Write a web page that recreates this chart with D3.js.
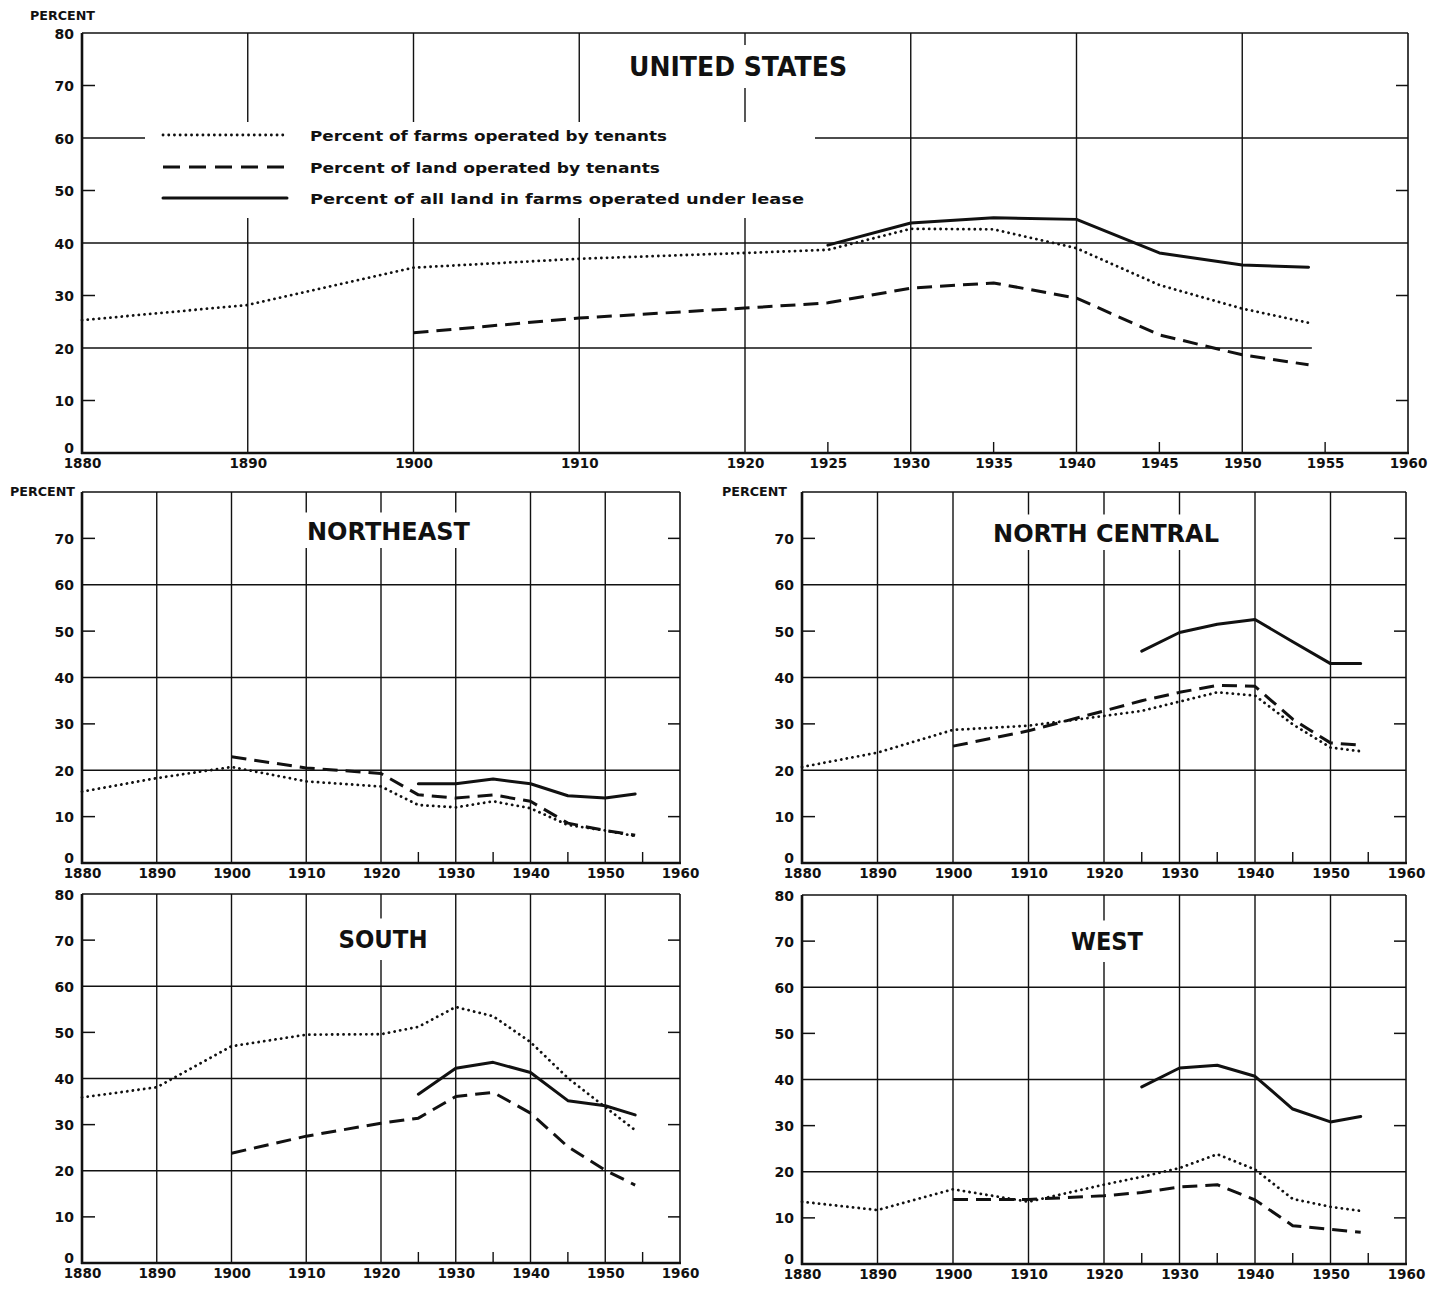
<!DOCTYPE html>
<html><head><meta charset="utf-8">
<script src="https://cdn.jsdelivr.net/npm/d3@7"></script>
<style>
body{margin:0;background:#fff;}
svg{display:block;background:#fff;}
text{font-family:"DejaVu Sans","Liberation Sans",sans-serif;font-weight:bold;fill:#111;}
</style></head><body>
<svg id="c" width="1430" height="1290"></svg>
<script>
// ---------- DATA ----------
const years      = [1880,1890,1900,1910,1920,1925,1930,1935,1940,1945,1950,1954];
const landYears  = [1900,1910,1920,1925,1930,1935,1940,1945,1950,1954];
const leaseYears = [1925,1930,1935,1940,1945,1950,1954];

const usFarms = [25.3,28.2,35.3,37.0,38.1,38.7,42.7,42.6,39.0,32.0,27.5,24.8];
const usLand  = [22.9,25.7,27.6,28.6,31.4,32.4,29.5,22.5,18.7,16.8];
const usLease = [39.6,43.8,44.8,44.5,38.1,35.8,35.4];

const neFarms = [15.4,18.3,20.7,17.6,16.5,12.5,12.0,13.3,11.8,8.2,7.0,5.8];
const neLand  = [22.9,20.5,19.3,14.7,14.0,14.7,13.3,8.6,7.0,6.0];
const neLease = [17.1,17.1,18.1,17.1,14.5,14.0,14.9];

const ncFarms = [20.7,23.8,28.7,29.6,31.7,32.8,34.8,36.8,36.1,29.9,24.9,24.1];
const ncLand  = [25.2,28.5,32.8,35.0,36.8,38.3,38.1,31.0,25.9,25.4];
const ncLease = [45.7,49.7,51.5,52.5,47.7,43.0,43.0];

const soFarms = [35.9,38.1,47.0,49.5,49.6,51.2,55.5,53.5,47.9,40.1,33.8,28.8];
const soLand  = [23.8,27.5,30.3,31.4,36.1,37.0,32.5,25.2,20.1,16.9];
const soLease = [36.6,42.2,43.5,41.3,35.2,34.1,32.1];

const weFarms = [13.5,11.7,16.2,13.5,17.2,18.9,20.8,23.8,20.5,14.1,12.4,11.5];
const weLand  = [14.0,14.0,14.8,15.5,16.7,17.2,13.9,8.3,7.5,6.9];
const weLease = [38.4,42.5,43.1,40.7,33.6,30.8,32.0];

const panelTitles  = ["UNITED STATES","NORTHEAST","NORTH CENTRAL","SOUTH","WEST"];
const legendLabels = ["Percent of farms operated by tenants",
                      "Percent of land operated by tenants",
                      "Percent of all land in farms operated under lease"];
const yTickLabels  = [0,10,20,30,40,50,60,70,80];
const xTicksUS     = [1880,1890,1900,1910,1920,1925,1930,1935,1940,1945,1950,1955,1960];
const xTicksRegion = [1880,1890,1900,1910,1920,1930,1940,1950,1960];
const yAxisTitle   = "PERCENT";

// ---------- LAYOUT ----------
const svg = d3.select("#c");
const INK = "#111";
const styles = [
  {dash:"0.1,5.6", w:2.8, cap:"round"},   // farms (dotted)
  {dash:"15,8",    w:3.0, cap:"butt"},    // land (dashed)
  {dash:null,      w:3.0, cap:"round"}    // lease (solid)
];

const panels = [
  {title:0, x0:82,  x1:1408, yb:453,  yt:33,  xt:xTicksUS, top80:true, pct:[30,20],
   tsize:26, tlen:218, tcx:738, tbase:76, tpad:[12,12],
   farms:usFarms, land:usLand, lease:usLease, legend:true, short20:true, xpad:5},
  {title:1, x0:82,  x1:680,  yb:863,  yt:492, xt:xTicksRegion, top80:false, pct:[10,496],
   tsize:24, tlen:163, tcx:388.5, tbase:540, tpad:[10,8],
   farms:neFarms, land:neLand, lease:neLease, xpad:5},
  {title:2, x0:802, x1:1406, yb:863,  yt:492, xt:xTicksRegion, top80:false, pct:[722,496],
   tsize:24, tlen:226, tcx:1106, tbase:542, tpad:[10,8],
   farms:ncFarms, land:ncLand, lease:ncLease, xpad:5},
  {title:3, x0:82,  x1:680,  yb:1263, yt:894, xt:xTicksRegion, top80:true,
   tsize:24, tlen:89, tcx:383, tbase:948, tpad:[12,12],
   farms:soFarms, land:soLand, lease:soLease, xpad:5},
  {title:4, x0:802, x1:1406, yb:1264, yt:895, xt:xTicksRegion, top80:true,
   tsize:24, tlen:72, tcx:1107, tbase:950, tpad:[12,12],
   farms:weFarms, land:weLand, lease:weLease, xpad:5}
];

function drawPanel(p){
  const g = svg.append("g");
  const x = d3.scaleLinear().domain([1880,1960]).range([p.x0,p.x1]);
  const y = d3.scaleLinear().domain([0,80]).range([p.yb,p.yt]);

  // grid: vertical decade lines
  g.append("g").selectAll("line").data(d3.range(1890,1951,10)).join("line")
    .attr("x1",d=>x(d)).attr("x2",d=>x(d)).attr("y1",p.yt).attr("y2",p.yb)
    .attr("stroke",INK).attr("stroke-width",1.4);
  // grid: horizontal 20/40/60
  g.append("g").selectAll("line").data([20,40,60]).join("line")
    .attr("x1",p.x0).attr("x2",d=>(d===20&&p.short20)?x(1954.2):p.x1)
    .attr("y1",d=>y(d)).attr("y2",d=>y(d))
    .attr("stroke",INK).attr("stroke-width",1.5);
  // half-decade ticks on bottom
  g.append("g").selectAll("line").data([1925,1935,1945,1955]).join("line")
    .attr("x1",d=>x(d)).attr("x2",d=>x(d)).attr("y1",p.yb).attr("y2",p.yb-11)
    .attr("stroke",INK).attr("stroke-width",1.4);
  // minor y ticks (both sides)
  const mt = [10,30,50,70];
  g.append("g").selectAll("line").data(mt).join("line")
    .attr("x1",p.x0).attr("x2",p.x0+13).attr("y1",d=>y(d)).attr("y2",d=>y(d))
    .attr("stroke",INK).attr("stroke-width",1.5);
  g.append("g").selectAll("line").data(mt).join("line")
    .attr("x1",p.x1).attr("x2",p.x1-12).attr("y1",d=>y(d)).attr("y2",d=>y(d))
    .attr("stroke",INK).attr("stroke-width",1.5);

  // legend knockout (US)
  if(p.legend){
    g.append("rect").attr("x",145).attr("y",122).attr("width",815-145).attr("height",218-122)
      .attr("fill","#fff");
  }

  // title with knockout
  const tg = g.append("g");
  tg.append("text").attr("x",p.tcx).attr("y",p.tbase)
    .attr("text-anchor","middle").attr("font-size",p.tsize)
    .attr("textLength",p.tlen).attr("lengthAdjust","spacingAndGlyphs")
    .text(panelTitles[p.title]);
  const capTop = p.tbase - p.tsize*0.73;
  tg.insert("rect","text").attr("x",p.tcx-p.tlen/2-7).attr("width",p.tlen+14)
    .attr("y",capTop-p.tpad[0]).attr("height",(p.tbase-capTop)+p.tpad[0]+p.tpad[1])
    .attr("fill","#fff");

  // series
  const line = d3.line().x(d=>x(d[0])).y(d=>y(d[1]));
  const sets = [d3.zip(years,p.farms), d3.zip(landYears,p.land), d3.zip(leaseYears,p.lease)];
  sets.forEach((s,i)=>{
    const st = styles[i];
    g.append("path").datum(s).attr("d",line).attr("fill","none")
      .attr("stroke",INK).attr("stroke-width",st.w).attr("stroke-linecap",st.cap)
      .attr("stroke-linejoin","round")
      .attr("stroke-dasharray",st.dash);
  });

  // frame
  g.append("line").attr("x1",p.x0).attr("x2",p.x1).attr("y1",p.yt).attr("y2",p.yt)
    .attr("stroke",INK).attr("stroke-width",1.6);
  g.append("line").attr("x1",p.x1).attr("x2",p.x1).attr("y1",p.yt).attr("y2",p.yb)
    .attr("stroke",INK).attr("stroke-width",1.6);
  g.append("line").attr("x1",p.x0).attr("x2",p.x0).attr("y1",p.yt).attr("y2",p.yb+1)
    .attr("stroke",INK).attr("stroke-width",2.6);
  g.append("line").attr("x1",p.x0-1).attr("x2",p.x1+1).attr("y1",p.yb).attr("y2",p.yb)
    .attr("stroke",INK).attr("stroke-width",2.6);

  // axes labels via d3 axes
  const yl = p.top80 ? yTickLabels : yTickLabels.filter(v=>v<80);
  const ya = g.append("g").attr("transform",`translate(${p.x0},0)`)
    .call(d3.axisLeft(y).tickValues(yl).tickSize(0).tickPadding(8).tickFormat(d3.format("d")));
  ya.select(".domain").remove();
  ya.selectAll("text").attr("font-size",14).attr("font-family",null).attr("fill",INK)
    .attr("dy",d=>d===0?"-0.05em":"0.36em");
  const xa = g.append("g").attr("transform",`translate(0,${p.yb})`)
    .call(d3.axisBottom(x).tickValues(p.xt).tickSize(0).tickPadding(p.xpad).tickFormat(d3.format("d")));
  xa.select(".domain").remove();
  xa.selectAll("text").attr("font-size",13.5).attr("font-family",null).attr("fill",INK);

  if(p.pct){
    g.append("text").attr("x",p.pct[0]).attr("y",p.pct[1]).attr("font-size",11.5)
      .attr("textLength",65).attr("lengthAdjust","spacingAndGlyphs").text(yAxisTitle);
  }

  // legend (US)
  if(p.legend){
    const ly = [135,167,198];
    const lt = [141,173,204];
    const ll = [357,350,494];
    legendLabels.forEach((lab,i)=>{
      const st = styles[i];
      g.append("line").attr("x1",163).attr("x2",287).attr("y1",ly[i]).attr("y2",ly[i])
        .attr("stroke",INK).attr("stroke-width",st.w).attr("stroke-linecap",st.cap)
        .attr("stroke-dasharray",i===1?"17,9":st.dash);
      g.append("text").attr("x",310).attr("y",lt[i]).attr("font-size",14.5)
        .attr("textLength",ll[i]).attr("lengthAdjust","spacingAndGlyphs").text(lab);
    });
  }
}
panels.forEach(drawPanel);
</script>
</body></html>
